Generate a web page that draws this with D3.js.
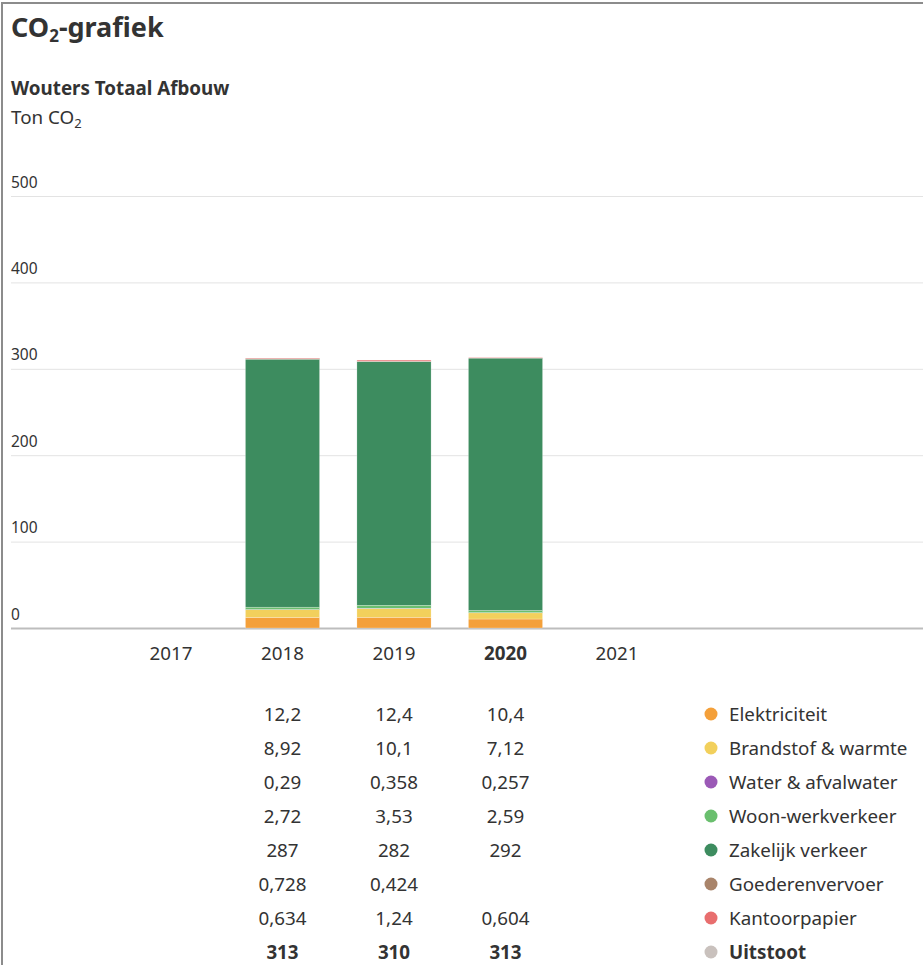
<!DOCTYPE html>
<html>
<head>
<meta charset="utf-8">
<script src="https://cdn.jsdelivr.net/npm/d3@7"></script>
<style>
  body { margin: 0; background: #fff; }
  text { font-family: "Noto Sans", sans-serif; fill: #333; }
</style>
</head>
<body>
<div id="chart"></div>
<script>
// data
var years = ["2017", "2018", "2019", "2020", "2021"];
var dataYears = ["2018", "2019", "2020"];
var currentYear = "2020";
var categories = ["Elektriciteit", "Brandstof & warmte", "Water & afvalwater", "Woon-werkverkeer", "Zakelijk verkeer", "Goederenvervoer", "Kantoorpapier"];
var colors = ["#f4a03a", "#f2d05c", "#9b59b6", "#6abf6e", "#3d8c5f", "#a9846a", "#e86e6e"];
var elektriciteit = [12.2, 12.4, 10.4];
var brandstof = [8.92, 10.1, 7.12];
var water = [0.29, 0.358, 0.257];
var woonwerk = [2.72, 3.53, 2.59];
var zakelijk = [287, 282, 292];
var goederen = [0.728, 0.424, null];
var papier = [0.634, 1.24, 0.604];
var totals = [313, 310, 313];
var yTicks = [0, 100, 200, 300, 400, 500];

var series = [elektriciteit, brandstof, water, woonwerk, zakelijk, goederen, papier];

width = 923;
height = 965;
var font = "'Noto Sans', sans-serif";
var fs = "18.8px";

var nl = d3.formatLocale({decimal: ",", thousands: ".", grouping: [3], currency: ["€", ""]});
var fmt = nl.format(".3~r");

var svg = d3.select("#chart").append("svg")
    .attr("width", width)
    .attr("height", height);

// frame
svg.append("rect")
    .attr("x", 2).attr("y", 3)
    .attr("width", width + 10).attr("height", height + 10)
    .attr("fill", "none")
    .attr("stroke", "#8c8c8c")
    .attr("stroke-width", 2);

// titles
var t = svg.append("text").attr("x", 11).attr("y", 37)
    .style("font-size", "27px").style("font-weight", 700);
t.append("tspan").text("CO");
t.append("tspan").text("2").style("font-size", "17px").attr("dy", 5);
t.append("tspan").text("-grafiek").attr("dy", -5);

svg.append("text").attr("x", 11).attr("y", 95)
    .style("font-size", fs).style("font-weight", 700)
    .text("Wouters Totaal Afbouw");

var u = svg.append("text").attr("x", 11).attr("y", 124).style("font-size", fs);
u.append("tspan").text("Ton CO");
u.append("tspan").text("2").style("font-size", "13px").attr("dy", 4);

// scales
var y = d3.scaleLinear().domain([0, 500]).range([628, 196]);
var x = d3.scaleBand().domain(years).range([115.25, 672.75])
    .paddingInner(0.335).paddingOuter(0.1675);

// gridlines
var yAxis = svg.append("g")
    .attr("transform", "translate(11,0)")
    .call(d3.axisRight(y).tickValues(yTicks).tickSize(width - 11).tickFormat(d3.format("d")));
yAxis.select(".domain").remove();
yAxis.selectAll(".tick line").attr("stroke", d => d == 0 ? "#bdbdbd" : "#e3e3e3").attr("stroke-width", d => d == 0 ? 2 : 1);
yAxis.selectAll(".tick text")
    .attr("x", 0).attr("dy", -9)
    .attr("text-anchor", "start")
    .style("font-size", "15.5px")
    .style("font-family", font)
    .attr("fill", "#333");

// stack
var rows = dataYears.map(function(yr, i) {
    var r = {year: yr};
    categories.forEach(function(c, k) { r[c] = series[k][i] || 0; });
    return r;
});
var stack = d3.stack().keys(categories)(rows);

svg.append("g").selectAll("g")
    .data(stack)
    .enter().append("g")
    .attr("fill", (d, i) => colors[i])
    .selectAll("rect")
    .data(d => d)
    .enter().append("rect")
    .attr("x", d => x(d.data.year))
    .attr("width", x.bandwidth())
    .attr("y", d => y(d[1]))
    .attr("height", d => y(d[0]) - y(d[1]))
    .attr("stroke", "#fff")
    .attr("stroke-width", 0.4)
    .attr("stroke-opacity", 0.6);

// year axis
var xAxis = svg.append("g")
    .attr("transform", "translate(0,643)")
    .call(d3.axisBottom(x).tickSize(0).tickPadding(0));
xAxis.select(".domain").remove();
xAxis.selectAll(".tick text")
    .attr("dy", "0.9em")
    .style("font-size", fs)
    .style("font-family", font)
    .style("font-weight", d => d == currentYear ? 700 : 400)
    .attr("fill", "#333");

// table
var rowY = d3.scaleBand().domain(d3.range(categories.length + 1)).range([697, 969]);
var table = svg.append("g");
series.forEach(function(s, k) {
    table.selectAll(null)
        .data(s)
        .enter().append("text")
        .attr("x", (d, i) => x(dataYears[i]) + x.bandwidth() / 2)
        .attr("y", rowY(k) + rowY.bandwidth() / 2)
        .attr("dy", "0.35em")
        .attr("text-anchor", "middle")
        .style("font-size", fs)
        .text(d => d == null ? "" : fmt(d));
});
table.selectAll(null)
    .data(totals)
    .enter().append("text")
    .attr("x", (d, i) => x(dataYears[i]) + x.bandwidth() / 2)
    .attr("y", rowY(categories.length) + rowY.bandwidth() / 2)
    .attr("dy", "0.35em")
    .attr("text-anchor", "middle")
    .style("font-size", fs)
    .style("font-weight", 700)
    .text(d => fmt(d));

// legend
var legendItems = categories.concat(["Uitstoot"]);
var legendColors = colors.concat(["#c9c1bd"]);
var legend = svg.append("g").selectAll("g")
    .data(legendItems)
    .enter().append("g")
    .attr("transform", (d, i) => "translate(711," + (rowY(i) + rowY.bandwidth() / 2) + ")");
legend.append("circle")
    .attr("r", 6.5)
    .attr("fill", (d, i) => legendColors[i]);
legend.append("text")
    .attr("x", 18)
    .attr("dy", "0.35em")
    .style("font-size", fs)
    .style("font-weight", d => d == "Uitstoot" ? 700 : 400)
    .text(d => d);
</script>
</body>
</html>
